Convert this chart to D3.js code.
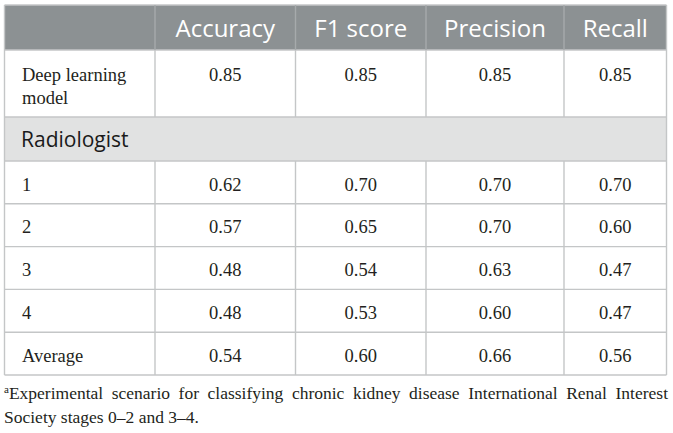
<!DOCTYPE html>
<html><head><meta charset="utf-8">
<script src="https://cdn.jsdelivr.net/npm/d3@7"></script>
<style>html,body{margin:0;padding:0;background:#fff;}svg{display:block;}</style>
</head><body>
<svg id="t" width="673" height="433"></svg>
<script>
// ---- data ----
const columns = ["Accuracy", "F1 score", "Precision", "Recall"];
const modelLabel = ["Deep learning", "model"];
const modelValues = [0.85, 0.85, 0.85, 0.85];
const groupLabel = "Radiologist";
const raters = ["1", "2", "3", "4", "Average"];
const accuracy = [0.62, 0.57, 0.48, 0.48, 0.54];
const f1score = [0.70, 0.65, 0.54, 0.53, 0.60];
const precision = [0.70, 0.70, 0.63, 0.60, 0.66];
const recall = [0.70, 0.60, 0.47, 0.47, 0.56];
const footnoteLines = [
  "Experimental scenario for classifying chronic kidney disease International Renal Interest",
  "Society stages 0\u20132 and 3\u20134."
];
const footnoteMark = "a";

// ---- layout ----
const colEdges = [4.5, 155, 295.5, 426, 564, 666.5];
const rowHeights = [45, 67, 44, 42.8, 42.8, 42.8, 42.8, 42.8];
const top0 = 5;
const rowEdges = [top0];
rowHeights.forEach(h => rowEdges.push(rowEdges[rowEdges.length - 1] + h));

const xEdge = d3.scaleOrdinal().domain(d3.range(colEdges.length)).range(colEdges);
const yEdge = d3.scaleOrdinal().domain(d3.range(rowEdges.length)).range(rowEdges);
const xMid = i => (xEdge(i + 1) + xEdge(i + 2)) / 2; // data column i
const fmt = d3.format(".2f");

const serif = "'Liberation Serif','Times New Roman',serif";
const sans = "'Open Sans','Noto Sans',sans-serif";
const headerBg = "#8c9193", groupBg = "#e1e2e2", lineCol = "#c4c6c7", textCol = "#231f20";

const svg = d3.select("#t");
const W = colEdges[colEdges.length - 1] - colEdges[0];

// backgrounds
svg.append("rect").attr("x", xEdge(0)).attr("y", yEdge(0)).attr("width", W)
  .attr("height", yEdge(1) - yEdge(0)).attr("fill", headerBg);
svg.append("rect").attr("x", xEdge(0)).attr("y", yEdge(2)).attr("width", W)
  .attr("height", yEdge(3) - yEdge(2)).attr("fill", groupBg);

// header text
svg.append("g").selectAll("text").data(columns).join("text")
  .attr("x", (d, i) => xMid(i)).attr("y", yEdge(0) + 32)
  .attr("text-anchor", "middle").attr("fill", "#ffffff")
  .attr("font-family", sans).attr("font-size", 24).text(d => d);

// grid lines
const g = svg.append("g").attr("stroke", lineCol).attr("stroke-width", 1.4).attr("fill", "none");
// horizontal lines
rowEdges.forEach((y, i) => {
  g.append("line").attr("x1", xEdge(0)).attr("x2", xEdge(colEdges.length - 1))
    .attr("y1", yEdge(i)).attr("y2", yEdge(i));
});
// vertical lines
colEdges.forEach((x, i) => {
  const isOuter = i === 0 || i === colEdges.length - 1;
  // header part
  g.append("line").attr("x1", xEdge(i)).attr("x2", xEdge(i))
    .attr("y1", yEdge(0)).attr("y2", yEdge(1))
    .attr("stroke", isOuter ? lineCol : "#a6aaac");
  // model row
  g.append("line").attr("x1", xEdge(i)).attr("x2", xEdge(i))
    .attr("y1", yEdge(1)).attr("y2", yEdge(2));
  // group row: only outer borders
  if (isOuter) g.append("line").attr("x1", xEdge(i)).attr("x2", xEdge(i))
    .attr("y1", yEdge(2)).attr("y2", yEdge(3));
  // rater rows
  g.append("line").attr("x1", xEdge(i)).attr("x2", xEdge(i))
    .attr("y1", yEdge(3)).attr("y2", yEdge(rowEdges.length - 1));
});

// model row
svg.append("g").selectAll("text").data(modelLabel).join("text")
  .attr("x", xEdge(0) + 17.5).attr("y", (d, i) => yEdge(1) + 31 + i * 23)
  .attr("font-family", serif).attr("font-size", 18.5).attr("fill", textCol).text(d => d);
svg.append("g").selectAll("text").data(modelValues).join("text")
  .attr("x", (d, i) => xMid(i)).attr("y", yEdge(1) + 31)
  .attr("text-anchor", "middle").attr("font-family", serif).attr("font-size", 18.5)
  .attr("fill", textCol).text(d => fmt(d));

// group row
svg.append("text").attr("x", xEdge(0) + 16.5).attr("y", yEdge(2) + 30)
  .attr("font-family", sans).attr("font-size", 21).attr("fill", "#1a1a1a").text(groupLabel);

// rater rows
const series = [accuracy, f1score, precision, recall];
const rows = svg.append("g").selectAll("g").data(raters).join("g");
rows.append("text").attr("x", xEdge(0) + 17.5).attr("y", (d, r) => yEdge(3 + r) + 29.5)
  .attr("font-family", serif).attr("font-size", 18.5).attr("fill", textCol).text(d => d);
rows.each(function (d, r) {
  d3.select(this).selectAll("text.v").data(series.map(s => s[r])).join("text")
    .attr("class", "v").attr("x", (v, i) => xMid(i)).attr("y", yEdge(3 + r) + 29.5)
    .attr("text-anchor", "middle").attr("font-family", serif).attr("font-size", 18.5)
    .attr("fill", textCol).text(v => fmt(v));
});

// footnote
const fn = svg.append("g").attr("font-family", serif).attr("font-size", 17.5).attr("fill", textCol);
const l1 = fn.append("text").attr("x", 4).attr("y", 399);
l1.append("tspan").attr("font-size", 11).attr("dy", -6).text(footnoteMark);
const body1 = l1.append("tspan").attr("dy", 6).text(footnoteLines[0]);
// justify first line by word spacing
const natural = l1.node().getComputedTextLength();
const gaps = footnoteLines[0].split(" ").length - 1;
const target = 668 - 4;
l1.attr("word-spacing", (target - natural) / gaps);
fn.append("text").attr("x", 4).attr("y", 423).text(footnoteLines[1]);
</script>
</body></html>
